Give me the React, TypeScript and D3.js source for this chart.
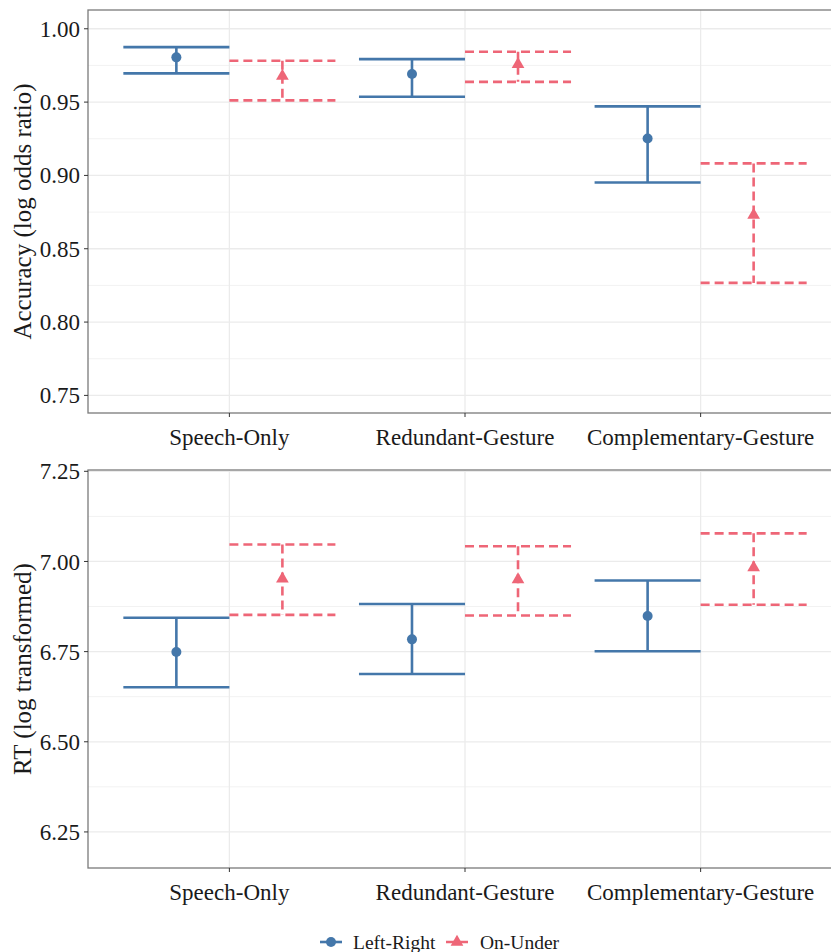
import React from "react";
import * as d3 from "d3";

const categories = ["Speech-Only", "Redundant-Gesture", "Complementary-Gesture"];
const groups = ["Left-Right", "On-Under"];

// Accuracy panel
const accLRMean = [0.9805, 0.9691, 0.9252];
const accLRLow = [0.9696, 0.9536, 0.8952];
const accLRHigh = [0.9875, 0.9793, 0.9471];
const accOUMean = [0.9677, 0.9757, 0.8729];
const accOULow = [0.9512, 0.9638, 0.8267];
const accOUHigh = [0.9782, 0.9843, 0.9082];
const accTicks = [0.75, 0.8, 0.85, 0.9, 0.95, 1.0];

// RT panel
const rtLRMean = [6.749, 6.784, 6.849];
const rtLRLow = [6.651, 6.688, 6.751];
const rtLRHigh = [6.844, 6.882, 6.947];
const rtOUMean = [6.952, 6.95, 6.983];
const rtOULow = [6.852, 6.85, 6.88];
const rtOUHigh = [7.047, 7.042, 7.078];
const rtTicks = [6.25, 6.5, 6.75, 7.0, 7.25];

const COLORS = ["#4477AA", "#EE6677"];
const W = 831;
const H = 952;
const FONT = "'Liberation Serif', 'Times New Roman', serif";

type Row = { cat: string; group: string; mean: number; low: number; high: number };

function rows(m1: number[], l1: number[], h1: number[], m2: number[], l2: number[], h2: number[]): Row[] {
  const out: Row[] = [];
  categories.forEach((c, i) => {
    out.push({ cat: c, group: groups[0], mean: m1[i], low: l1[i], high: h1[i] });
    out.push({ cat: c, group: groups[1], mean: m2[i], low: l2[i], high: h2[i] });
  });
  return out;
}

const accRows = rows(accLRMean, accLRLow, accLRHigh, accOUMean, accOULow, accOUHigh);
const rtRows = rows(rtLRMean, rtLRLow, rtLRHigh, rtOUMean, rtOULow, rtOUHigh);

const left = 88;
const right = 842;

function Panel({ top, bottom, domain, ticks, data, title }: { top: number; bottom: number; domain: [number, number]; ticks: number[]; data: Row[]; title: string }) {
  const x = d3.scalePoint<string>().domain(categories).range([left, right]).padding(0.6);
  const step = x.step();
  const inner = d3.scaleBand<string>().domain(groups).range([-0.45 * step, 0.45 * step]);
  const y = d3.scaleLinear().domain(domain).range([bottom, top]);
  const minor = ticks.slice(0, -1).map((t, i) => (t + ticks[i + 1]) / 2);
  const fmt = d3.format(".2f");
  const tri = d3.symbol().type(d3.symbolTriangle).size(70)();
  return (
    <g>
      {minor.map((t) => (
        <line key={"mn" + t} x1={left} x2={right} y1={y(t)} y2={y(t)} stroke="#f2f2f2" strokeWidth={1} />
      ))}
      {ticks.map((t) => (
        <line key={"mj" + t} x1={left} x2={right} y1={y(t)} y2={y(t)} stroke="#ebebeb" strokeWidth={1.3} />
      ))}
      {categories.map((c) => (
        <line key={"vx" + c} x1={x(c)} x2={x(c)} y1={top} y2={bottom} stroke="#ebebeb" strokeWidth={1.3} />
      ))}
      {data.map((d, i) => {
        const gi = groups.indexOf(d.group);
        const x0 = (x(d.cat) as number) + (inner(d.group) as number);
        const xc = x0 + inner.bandwidth() / 2;
        const dash = gi === 1 ? "9 5" : undefined;
        const col = COLORS[gi];
        return (
          <g key={i}>
            <line x1={x0} x2={x0 + inner.bandwidth()} y1={y(d.high)} y2={y(d.high)} stroke={col} strokeWidth={2.6} strokeDasharray={dash} />
            <line x1={x0} x2={x0 + inner.bandwidth()} y1={y(d.low)} y2={y(d.low)} stroke={col} strokeWidth={2.6} strokeDasharray={dash} />
            <line x1={xc} x2={xc} y1={y(d.high)} y2={y(d.low)} stroke={col} strokeWidth={2.6} strokeDasharray={dash} />
            {gi === 0 ? (
              <circle cx={xc} cy={y(d.mean)} r={5} fill={col} />
            ) : (
              <path d={tri as string} transform={`translate(${xc},${y(d.mean)})`} fill={col} />
            )}
          </g>
        );
      })}
      <rect x={left} y={top} width={right - left} height={bottom - top} fill="none" stroke="#7a7a7a" strokeWidth={1.3} />
      {ticks.map((t) => (
        <g key={"yt" + t}>
          <line x1={left - 4} x2={left} y1={y(t)} y2={y(t)} stroke="#333" strokeWidth={1} />
          <text x={left - 8} y={y(t)} dy="0.35em" textAnchor="end" fontFamily={FONT} fontSize={23} fill="#1a1a1a">
            {fmt(t)}
          </text>
        </g>
      ))}
      {categories.map((c) => (
        <g key={"xt" + c}>
          <line x1={x(c)} x2={x(c)} y1={bottom} y2={bottom + 4} stroke="#333" strokeWidth={1} />
          <text x={x(c)} y={bottom + 24} dy="0.35em" textAnchor="middle" fontFamily={FONT} fontSize={23} fill="#1a1a1a">
            {c}
          </text>
        </g>
      ))}
      <text transform={`translate(31,${(top + bottom) / 2}) rotate(-90)`} textAnchor="middle" fontFamily={FONT} fontSize={25} fill="#1a1a1a">
        {title}
      </text>
    </g>
  );
}

export default function App() {
  const tri = d3.symbol().type(d3.symbolTriangle).size(70)();
  return (
    <svg width={W} height={H} style={{ position: "absolute", left: 0, top: 0, background: "#fff" }}>
      <rect width={W} height={H} fill="#fff" />
      <Panel top={10} bottom={413} domain={[0.738, 1.0128]} ticks={accTicks} data={accRows} title="Accuracy (log odds ratio)" />
      <Panel top={470} bottom={868} domain={[6.15, 7.2536]} ticks={rtTicks} data={rtRows} title="RT (log transformed)" />
      <g>
        <line x1={320} x2={342} y1={942} y2={942} stroke={COLORS[0]} strokeWidth={2.6} />
        <circle cx={331} cy={942} r={5} fill={COLORS[0]} />
        <text x={353} y={942} dy="0.35em" fontFamily={FONT} fontSize={19.5} fill="#1a1a1a">
          {groups[0]}
        </text>
        <line x1={446} x2={468} y1={942} y2={942} stroke={COLORS[1]} strokeWidth={2.6} strokeDasharray="9 5" />
        <path d={tri as string} transform="translate(457,942)" fill={COLORS[1]} />
        <text x={480} y={942} dy="0.35em" fontFamily={FONT} fontSize={19.5} fill="#1a1a1a">
          {groups[1]}
        </text>
      </g>
    </svg>
  );
}
